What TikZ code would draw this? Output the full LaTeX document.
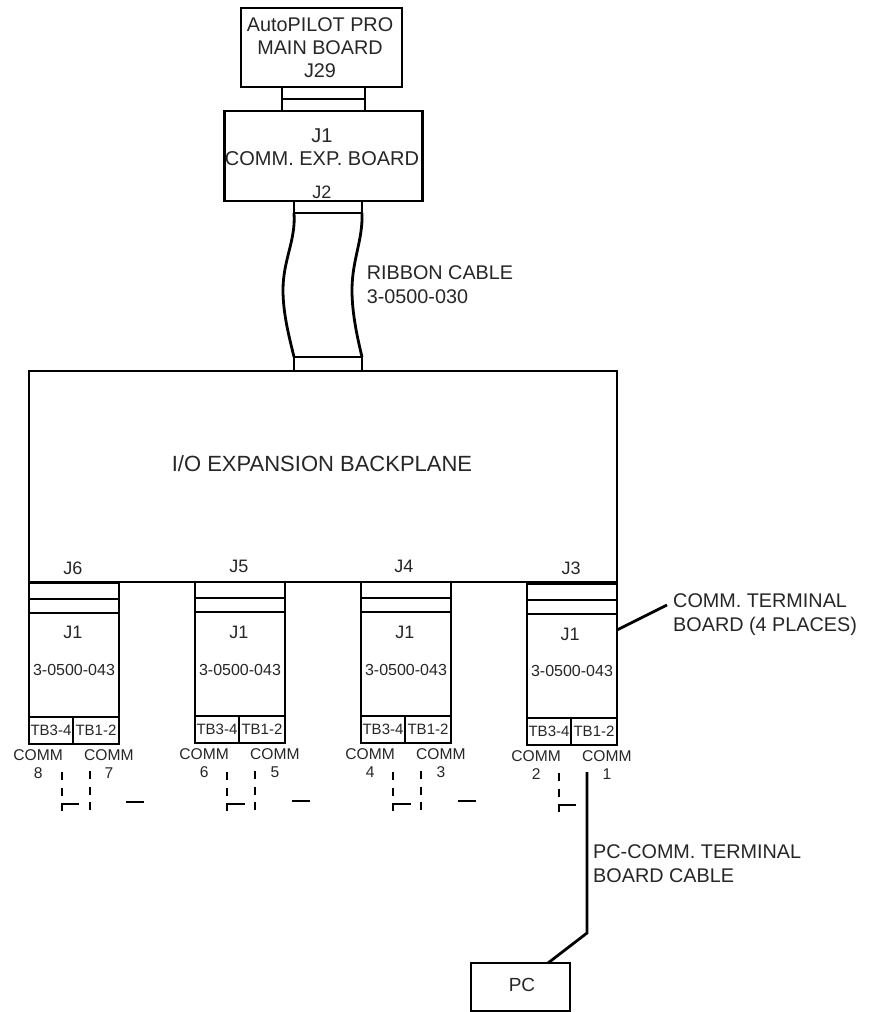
\documentclass[tikz,border=0pt]{standalone}
\usepackage{fontspec}
\setmainfont{Liberation Sans}
\usepackage{xcolor}
\usetikzlibrary{
    positioning
}

\begin{document}
\begin{tikzpicture}[
x=1pt,
y=-1pt,
node distance=0pt,
every node/.style={text=black!85},
lw/.style={line width=2.8pt},
box/.style={
draw,
lw,
inner sep=0pt,
outer sep=0pt,
align=center
},
slot/.style={box, minimum width=90pt, minimum height=14pt},
body/.style={box, minimum width=90pt, minimum height=104pt},
tbl/.style={box, minimum width=44pt, minimum height=27pt, font=\fontsize{15}{17}\selectfont},
tbr/.style={box, minimum width=46pt, minimum height=27pt, font=\fontsize{15}{17}\selectfont},
big/.style={inner sep=0pt, align=left, font=\fontsize{19.8}{24}\selectfont},
lbl/.style={inner sep=0pt, align=center, font=\fontsize{18}{22}\selectfont},
part/.style={inner sep=0pt, font=\fontsize{16}{18}\selectfont},
comm/.style={inner sep=0pt, align=center, font=\fontsize{15.6}{18}\selectfont},
wire/.style={lw},
stub/.style={line width=2.4pt, dash pattern=on 8pt off 7.5pt}
]
\useasboundingbox (0,0) rectangle (868,1012);

% top boards
\node[box, minimum width=161pt, minimum height=79pt] (mainboard) at (321.5,47.5) {};
\node[lbl, font=\fontsize{19.8}{23}\selectfont] (mainlabel) at (320,47.5)
{AutoPILOT PRO\\MAIN BOARD\\J29};

\node[box, minimum width=83pt, minimum height=12pt,
below=0pt of mainboard, xshift=2pt] (mainslota) {};
\node[box, minimum width=83pt, minimum height=12pt,
below=0pt of mainslota] (mainslotb) {};

\node[box, minimum width=198pt, minimum height=90pt,
below=0pt of mainslotb] (expboard) {};
\node[lbl, font=\fontsize{20}{23}\selectfont] (explabel) at (322,147)
{J1\\COMM. EXP. BOARD};
\node[lbl] (jtwo) at (322,192) {J2};

% ribbon cable
\node[box, minimum width=68pt, minimum height=12pt,
below=0pt of expboard, xshift=4.5pt] (ribtop) {};
\node[box, minimum width=68pt, minimum height=14pt] (ribbot) at (328,364) {};
\coordinate (ribleft) at (283,290);
\coordinate (ribright) at (352,290);

\draw[wire] (ribtop.south west)
.. controls (296,240) and (283,260) .. (ribleft)
.. controls (283,315) and (290,340) .. (ribbot.north west);
\draw[wire] (ribtop.south east)
.. controls (363,240) and (352,260) .. (ribright)
.. controls (352,315) and (358,340) .. (ribbot.north east);

\node[big] (riblabel) at (440,285)
{RIBBON CABLE\\3-0500-030};

% backplane
\node[box, minimum width=588pt, minimum height=211pt] (backplane) at (323,476.5) {};
\node[lbl, font=\fontsize{22}{24}\selectfont] (backlabel) at (322,464)
{I/O EXPANSION BACKPLANE};

\node[lbl] (jsix) at (73,568) {J6};
\node[lbl] (jfive) at (239,566) {J5};
\node[lbl] (jfour) at (404,566) {J4};
\node[lbl] (jthree) at (571,568) {J3};

% COMM 7-8
\node[slot, minimum height=16pt] (slotsixa) at (74,591) {};
\node[slot, below=0pt of slotsixa] (slotsixb) {};
\node[body, below=0pt of slotsixb] (bodysix) {};
\node[lbl] (jonesix) at (73,632) {J1};
\node[part] (partsix) at (74,670) {3-0500-043};
\node[tbl, below=0pt of bodysix.south west, anchor=north west] (tbsixl) {TB3-4};
\node[tbr, right=0pt of tbsixl] (tbsixr) {TB1-2};
\node[comm, below left=5pt and -34pt of tbsixl] (commeight) {COMM\\8};
\node[comm, below right=5pt and -35pt of tbsixr] (commseven) {COMM\\7};
\coordinate (dsixa) at (62,772);
\coordinate (dsixb) at (62,811);
\coordinate (dsixc) at (79,804);
\coordinate (dsixd) at (90,771);
\coordinate (dsixe) at (90,810);
\coordinate (dsixf) at (126,802);
\coordinate (dsixg) at (144,802);
\draw[stub] (dsixa) -- (dsixb);
\draw[stub] (dsixd) -- (dsixe);
\draw[wire] (dsixb |- dsixc) -- (dsixc);
\draw[wire] (dsixf) -- (dsixg);

% COMM 5-6
\node[slot, minimum height=16pt] (slotfivea) at (240,590) {};
\node[slot, below=0pt of slotfivea] (slotfiveb) {};
\node[body, below=0pt of slotfiveb] (bodyfive) {};
\node[lbl] (jonefive) at (239,632) {J1};
\node[part] (partfive) at (240,670) {3-0500-043};
\node[tbl, below=0pt of bodyfive.south west, anchor=north west] (tbfivel) {TB3-4};
\node[tbr, right=0pt of tbfivel] (tbfiver) {TB1-2};
\node[comm, below left=5pt and -34pt of tbfivel] (commsix) {COMM\\6};
\node[comm, below right=5pt and -35pt of tbfiver] (commfive) {COMM\\5};
\coordinate (dfivea) at (227,772);
\coordinate (dfiveb) at (227,811);
\coordinate (dfivec) at (245,804);
\coordinate (dfived) at (255,771);
\coordinate (dfivee) at (255,810);
\coordinate (dfivef) at (292,801);
\coordinate (dfiveg) at (310,801);
\draw[stub] (dfivea) -- (dfiveb);
\draw[stub] (dfived) -- (dfivee);
\draw[wire] (dfiveb |- dfivec) -- (dfivec);
\draw[wire] (dfivef) -- (dfiveg);

% COMM 3-4
\node[slot, minimum height=16pt] (slotfoura) at (406,590) {};
\node[slot, below=0pt of slotfoura] (slotfourb) {};
\node[body, below=0pt of slotfourb] (bodyfour) {};
\node[lbl] (jonefour) at (405,632) {J1};
\node[part] (partfour) at (406,670) {3-0500-043};
\node[tbl, below=0pt of bodyfour.south west, anchor=north west] (tbfourl) {TB3-4};
\node[tbr, right=0pt of tbfourl] (tbfourr) {TB1-2};
\node[comm, below left=5pt and -34pt of tbfourl] (commfour) {COMM\\4};
\node[comm, below right=5pt and -35pt of tbfourr] (commthree) {COMM\\3};
\coordinate (dfoura) at (393,772);
\coordinate (dfourb) at (393,811);
\coordinate (dfourc) at (411,804);
\coordinate (dfourd) at (421,771);
\coordinate (dfoure) at (421,810);
\coordinate (dfourf) at (458,801);
\coordinate (dfourg) at (476,801);
\draw[stub] (dfoura) -- (dfourb);
\draw[stub] (dfourd) -- (dfoure);
\draw[wire] (dfourb |- dfourc) -- (dfourc);
\draw[wire] (dfourf) -- (dfourg);

% COMM 1-2
\node[slot, minimum height=16pt] (slotthreea) at (572,592) {};
\node[slot, below=0pt of slotthreea] (slotthreeb) {};
\node[body, below=0pt of slotthreeb] (bodythree) {};
\node[lbl] (jonethree) at (570,634) {J1};
\node[part] (partthree) at (572,671) {3-0500-043};
\node[tbl, below=0pt of bodythree.south west, anchor=north west] (tbthreel) {TB3-4};
\node[tbr, right=0pt of tbthreel] (tbthreer) {TB1-2};
\node[comm, below left=5pt and -34pt of tbthreel] (commtwo) {COMM\\2};
\node[comm, below right=5pt and -35pt of tbthreer] (commone) {COMM\\1};
\coordinate (dthreea) at (559,773);
\coordinate (dthreeb) at (559,812);
\coordinate (dthreec) at (576,805);
\draw[stub] (dthreea) -- (dthreeb);
\draw[wire] (dthreeb |- dthreec) -- (dthreec);

% terminal board note
\coordinate (noteend) at (667,605);
\draw[wire] (bodythree.east |- 0,630) -- (noteend);
\node[big, anchor=west] (notelabel) at (673,615)
{COMM. TERMINAL\\BOARD (4 PLACES)};

% PC
\node[box, minimum width=99pt, minimum height=48pt] (pcbox) at (520.5,987) {};
\node[lbl, font=\fontsize{19}{22}\selectfont] (pclabel) at (522,985) {PC};
\coordinate (pcstart) at (587,772);
\coordinate (pcbend) at (587,933);
\coordinate (pcend) at (548,963);
\draw[wire] (pcstart) -- (pcbend) -- (pcend);
\node[big, anchor=west] (pccable) at (593,864)
{PC-COMM. TERMINAL\\BOARD CABLE};

\end{tikzpicture}
\end{document}
